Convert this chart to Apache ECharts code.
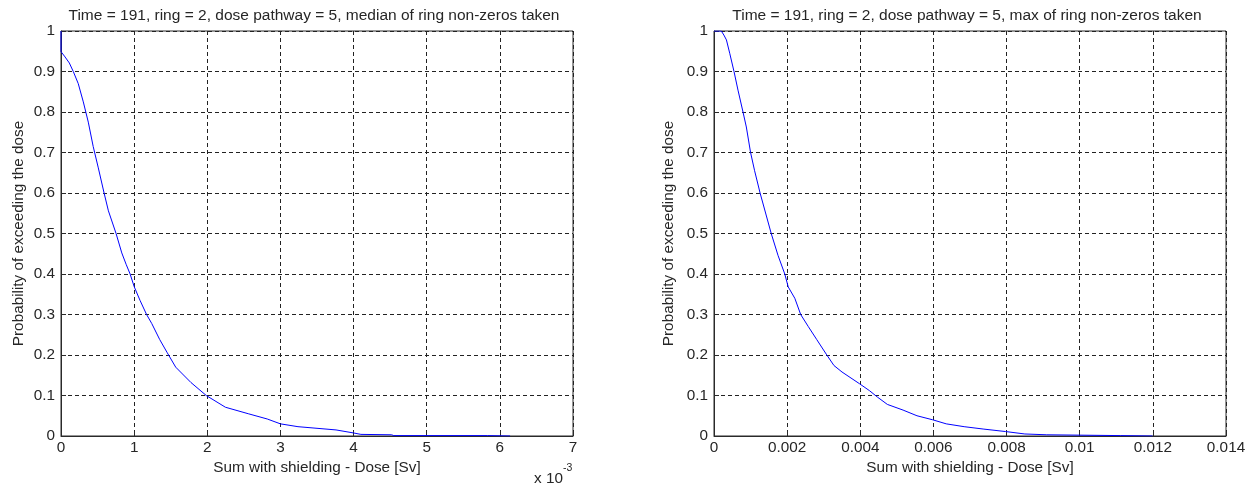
<!DOCTYPE html>
<html>
<head>
<meta charset="utf-8">
<script src="https://cdn.jsdelivr.net/npm/echarts@6/dist/echarts.min.js"></script>
<style>
  html, body { margin: 0; padding: 0; background: #fff; }
  #chart { width: 1259px; height: 488px; }
</style>
</head>
<body>
<div id="chart"></div>
<script>
// Exceedance curves: dose [Sv] vs probability of exceeding the dose
const medianDose = [0, 0, 0.000055, 0.000114, 0.000168, 0.000236, 0.000305, 0.000373, 0.00044, 0.00051,
  0.000589, 0.000648, 0.000753, 0.000831, 0.00089, 0.000945, 0.001, 0.00108, 0.00117, 0.00124,
  0.00135, 0.001448, 0.001568, 0.001777, 0.001986, 0.002248, 0.00256, 0.00282, 0.003, 0.00324,
  0.0035, 0.00376, 0.004, 0.0041, 0.00452, 0.00455, 0.00583, 0.00584, 0.00614];
const medianProb = [1, 0.949, 0.936, 0.921, 0.9, 0.87, 0.825, 0.775, 0.715, 0.662,
  0.6, 0.556, 0.5, 0.452, 0.424, 0.4, 0.369, 0.335, 0.3, 0.278,
  0.238, 0.207, 0.17, 0.132, 0.1, 0.071, 0.055, 0.042, 0.03, 0.023,
  0.019, 0.015, 0.0075, 0.004, 0.003, 0.001, 0.001, 0, 0];

const maxDose = [0, 0.0002, 0.00027, 0.00034, 0.00043, 0.000547, 0.000656, 0.000793, 0.000884, 0.001,
  0.00111, 0.00126, 0.001565, 0.00175, 0.001935, 0.00203, 0.00221, 0.00237, 0.00258, 0.00281,
  0.00307, 0.00328, 0.0035, 0.00398, 0.00425, 0.00447, 0.00474, 0.00517, 0.00555, 0.00598,
  0.00635, 0.00684, 0.00738, 0.00797, 0.0085, 0.0091, 0.00912, 0.01112, 0.01115, 0.01199];
const maxProb = [1, 1, 0.99, 0.978, 0.945, 0.9, 0.854, 0.8, 0.763, 0.7,
  0.655, 0.6, 0.5, 0.446, 0.4, 0.368, 0.34, 0.3, 0.27, 0.238,
  0.202, 0.174, 0.158, 0.129, 0.112, 0.096, 0.078, 0.064, 0.05, 0.04,
  0.03, 0.023, 0.017, 0.011, 0.005, 0.003, 0.001, 0.001, 0, 0];

const titles = [
  'Time = 191, ring = 2, dose pathway = 5, median of ring non-zeros taken',
  'Time = 191, ring = 2, dose pathway = 5, max of ring non-zeros taken'
];
const xName = 'Sum with shielding - Dose [Sv]';
const yName = 'Probability of exceeding the dose';

const FONT = '"Liberation Sans", Arial, sans-serif';
const TXT = '#262626';
const FS = 15.3;

function pairs(xs, ys) { return xs.map((x, i) => [x, ys[i]]); }

function xAxis(gridIndex, max, interval, fmt) {
  return {
    type: 'value', gridIndex, min: 0, max, interval,
    name: xName, nameLocation: 'middle', nameGap: 15,
    nameTextStyle: { fontFamily: FONT, fontSize: FS, color: TXT, verticalAlign: 'top' },
    axisLine: { show: true, lineStyle: { color: '#2a2a2a', width: 1 } },
    axisTick: { show: true, inside: true, length: 5, lineStyle: { color: '#2a2a2a' } },
    axisLabel: { fontFamily: FONT, fontSize: FS, color: TXT, margin: 4, formatter: fmt },
    splitLine: { show: true, lineStyle: { color: '#222', type: [4, 3], width: 1 } }
  };
}
function yAxis(gridIndex, gap) {
  return {
    type: 'value', gridIndex, min: 0, max: 1, interval: 0.1,
    name: yName, nameLocation: 'middle', nameGap: gap, nameRotate: 90,
    nameTextStyle: { fontFamily: FONT, fontSize: FS, color: TXT },
    axisLine: { show: true, lineStyle: { color: '#2a2a2a', width: 1 } },
    axisTick: { show: true, inside: true, length: 5, lineStyle: { color: '#2a2a2a' } },
    axisLabel: { fontFamily: FONT, fontSize: FS, color: TXT, margin: 6,
      formatter: v => String(+v.toFixed(1)) },
    splitLine: { show: true, lineStyle: { color: '#222', type: [4, 3], width: 1 } }
  };
}

const chart = echarts.init(document.getElementById('chart'), null, { renderer: 'canvas' });
chart.setOption({
  backgroundColor: '#fff',
  animation: false,
  title: [
    { text: titles[0], left: 309, top: 3, textAlign: 'center',
      textStyle: { fontFamily: FONT, fontSize: 15.5, fontWeight: 'normal', color: TXT } },
    { text: titles[1], left: 962, top: 3, textAlign: 'center',
      textStyle: { fontFamily: FONT, fontSize: 15.5, fontWeight: 'normal', color: TXT } }
  ],
  grid: [
    { left: 61, right: 686, top: 31, bottom: 52, show: true, borderColor: '#2a2a2a', borderWidth: 1, backgroundColor: '#fff' },
    { left: 714, right: 33, top: 31, bottom: 52, show: true, borderColor: '#2a2a2a', borderWidth: 1, backgroundColor: '#fff' }
  ],
  xAxis: [
    xAxis(0, 0.007, 0.001, v => String(Math.round(v * 1000))),
    xAxis(1, 0.014, 0.002, v => String(+v.toFixed(3)))
  ],
  yAxis: [yAxis(0, 35), yAxis(1, 38)],
  graphic: [{
    type: 'text', left: 534, top: 463,
    style: {
      text: '{b|x 10}{s|-3}',
      rich: {
        b: { fontFamily: FONT, fontSize: FS, fill: TXT, padding: [8, 0, 0, 0] },
        s: { fontFamily: FONT, fontSize: 10.5, fill: TXT, verticalAlign: 'top' }
      }
    }
  }],
  series: [
    { type: 'line', xAxisIndex: 0, yAxisIndex: 0, data: pairs(medianDose, medianProb),
      showSymbol: false, lineStyle: { color: '#0000ff', width: 1 }, silent: true },
    { type: 'line', xAxisIndex: 1, yAxisIndex: 1, data: pairs(maxDose, maxProb),
      showSymbol: false, lineStyle: { color: '#0000ff', width: 1 }, silent: true }
  ]
});
</script>
</body>
</html>
